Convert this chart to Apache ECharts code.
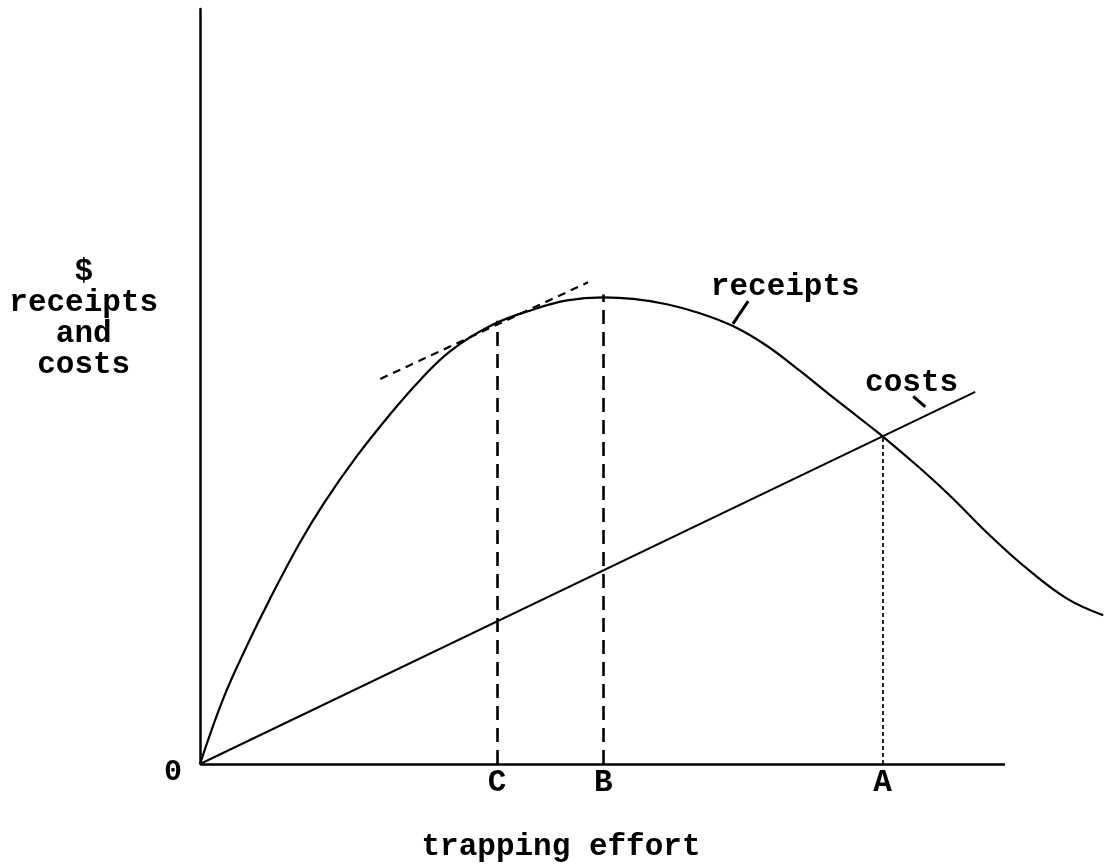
<!DOCTYPE html>
<html>
<head>
<meta charset="utf-8">
<script src="https://cdn.jsdelivr.net/npm/echarts@6/dist/echarts.min.js"></script>
<style>
  html, body { margin: 0; padding: 0; background: #fff; }
  #chart { width: 1107px; height: 868px; }
</style>
</head>
<body>
<div id="chart"></div>
<script>
// trapping effort (x) vs $ (y), both on a 0..100 scale
const effort = [0, 2.9, 5.8, 8.7, 12.4, 15.3, 19.5, 23.6, 27.3, 31.1, 36.4, 41.4, 45.6, 50.1, 53.8,
  58.0, 62.1, 66.2, 70.4, 74.5, 78.6, 82.9, 84.8, 89.1, 93.2, 98.1, 102.7, 107.7, 112.2]
const receipts = [0, 8.7, 15.6, 21.9, 29.3, 34.4, 40.8, 46.3, 50.8, 54.7, 58.2, 60.2, 61.4, 61.8, 61.6,
  60.9, 59.7, 58.0, 55.4, 52.1, 48.6, 45.0, 43.4, 39.5, 35.5, 30.3, 25.9, 21.9, 19.7]
const costEffort = [0, 96.3]
const costs = [0, 49.3]

// marked effort levels and where their dashed lines stop
const markNames = ['C', 'B', 'A']
const markEffort = [36.9, 50.1, 84.8]
const markTop = [58.7, 62.2, 43.4]

// tangent to receipts at C
const tangentX = [22.4, 48.2]
const tangentY = [51.0, 63.8]

// drawn extent of the effort axis; the receipts curve runs on past it
const axisEnd = 100
const xMax = 112.67

const FONT = '"Liberation Mono", "DejaVu Sans Mono", monospace'
const INK = '#000'

const chart = echarts.init(document.getElementById('chart'))

const dashed = markEffort.map((x, i) => ([
  { coord: [x, 0], lineStyle: i === 2 ? { type: [4, 3], width: 1.7 } : { type: [14, 8], width: 2.6 } },
  { coord: [x, markTop[i]] }
]))

const textStyle = { color: INK, fontFamily: FONT, fontSize: 31, fontWeight: 'bold' }

let option = {
  animation: false,
  backgroundColor: '#fff',
  grid: { left: 200, right: 0, top: 9, bottom: 102 },
  xAxis: {
    type: 'value', min: 0, max: xMax,
    axisLine: { show: false },
    axisTick: { show: false },
    splitLine: { show: false },
    axisLabel: {
      customValues: markEffort,
      formatter: (v) => markNames[markEffort.indexOf(v)] || '',
      ...textStyle, margin: 4
    },
    name: 'trapping effort',
    nameLocation: 'middle',
    nameGap: 68,
    nameTextStyle: { ...textStyle, padding: [0, 185, 0, 0] }
  },
  yAxis: {
    type: 'value', min: 0, max: 100,
    axisLine: { lineStyle: { color: INK, width: 2.5 } },
    axisTick: { show: false },
    splitLine: { show: false },
    axisLabel: {
      customValues: [0],
      formatter: (v) => v === 0 ? '0' : '',
      ...textStyle, fontSize: 30, margin: 18, verticalAlign: 'top', lineHeight: 16
    },
    name: '$\nreceipts\nand\ncosts',
    nameLocation: 'middle',
    nameRotate: 0,
    nameGap: 116,
    nameTextStyle: { ...textStyle, lineHeight: 31, align: 'center', verticalAlign: 'bottom', padding: [0, 0, 6, 0] }
  },
  series: [
    {
      name: 'receipts',
      type: 'line',
      data: effort.map((x, i) => [x, receipts[i]]),
      smooth: 0.4,
      showSymbol: false,
      clip: false,
      lineStyle: { color: INK, width: 2.2 },
      markLine: {
        symbol: 'none', silent: true, label: { show: false },
        lineStyle: { color: INK },
        data: [
          // the effort axis itself
          [{ coord: [0, 0], lineStyle: { type: 'solid', width: 2.5 } }, { coord: [axisEnd, 0] }],
          ...dashed,
          [{ coord: [tangentX[0], tangentY[0]], lineStyle: { type: [8, 6], width: 2.2 } },
           { coord: [tangentX[1], tangentY[1]] }],
          // pointer stroke for the label
          [{ coord: [68.1, 61.3], lineStyle: { type: 'solid', width: 3 } }, { coord: [66.2, 58.3] }]
        ]
      },
      markPoint: {
        symbol: 'circle', symbolSize: 0, silent: true,
        label: { show: true, ...textStyle, formatter: '{b}' },
        data: [{ name: 'receipts', coord: [72.7, 63.1] }]
      }
    },
    {
      name: 'costs',
      type: 'line',
      data: costEffort.map((x, i) => [x, costs[i]]),
      showSymbol: false,
      clip: false,
      lineStyle: { color: INK, width: 2 },
      markLine: {
        symbol: 'none', silent: true, label: { show: false },
        lineStyle: { color: INK, type: 'solid', width: 3 },
        data: [[{ coord: [88.6, 48.7] }, { coord: [90.1, 47.3] }]]
      },
      markPoint: {
        symbol: 'circle', symbolSize: 0, silent: true,
        label: { show: true, ...textStyle, formatter: '{b}' },
        data: [{ name: 'costs', coord: [88.4, 50.5] }]
      }
    }
  ]
}
option && chart.setOption(option)
</script>
</body>
</html>
